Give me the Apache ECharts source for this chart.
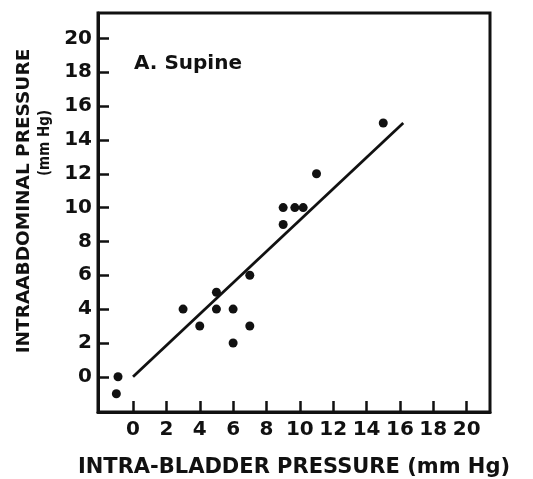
<!DOCTYPE html>
<html>
<head>
<meta charset="utf-8">
<script src="https://cdn.jsdelivr.net/npm/echarts@6/dist/echarts.min.js"></script>
<style>
  html, body { margin: 0; padding: 0; background: #fff; }
  #chart { width: 533px; height: 479px; }
</style>
</head>
<body>
<div id="chart"></div>
<script>
// tick labels
const xTicks = [0, 2, 4, 6, 8, 10, 12, 14, 16, 18, 20]
const yTicks = [0, 2, 4, 6, 8, 10, 12, 14, 16, 18, 20]

// measured points (intra-bladder, intraabdominal), mm Hg
const bladderP = [-0.9, -1, 3, 4, 5, 5, 6, 6, 7, 7, 9, 9, 9.7, 10.2, 11, 15]
const abdomP = [0, -1, 4, 3, 4, 5, 4, 2, 6, 3, 9, 10, 10, 10, 12, 15]

// regression line end points
const fitX = [0, 16.2]
const fitY = [0, 15]

const panelLabel = 'A. Supine'
const xTitle = 'INTRA-BLADDER PRESSURE (mm Hg)'
const yTitle = 'INTRAABDOMINAL PRESSURE'
const yUnit = '(mm Hg)'

const ink = '#111'
const font = '"DejaVu Sans", sans-serif'
const narrow = '"DejaVu Sans Condensed", "DejaVu Sans", sans-serif'

const chart = echarts.init(document.getElementById('chart'))

const option = {
  backgroundColor: '#fff',
  animation: false,
  grid: {
    left: 98,
    right: 43,
    top: 13,
    bottom: 67,
    outerBoundsMode: 'none',
    containLabel: false,
    show: true,
    borderColor: ink,
    borderWidth: 3,
    backgroundColor: 'transparent'
  },
  xAxis: {
    type: 'value',
    min: -2.1,
    max: 21.4,
    name: xTitle,
    nameLocation: 'middle',
    nameGap: 45,
    nameTextStyle: { color: ink, fontFamily: font, fontWeight: 'bold', fontSize: 21 },
    axisLine: { show: true, onZero: false, lineStyle: { color: ink, width: 3 } },
    splitLine: { show: false },
    axisTick: {
      show: true,
      inside: true,
      length: 11,
      customValues: xTicks,
      lineStyle: { color: ink, width: 2.5 }
    },
    axisLabel: {
      customValues: xTicks,
      margin: 8,
      color: ink,
      fontFamily: font,
      fontWeight: 'bold',
      fontSize: 20
    }
  },
  yAxis: {
    type: 'value',
    min: -2.08,
    max: 21.5,
    axisLine: { show: true, onZero: false, lineStyle: { color: ink, width: 3 } },
    splitLine: { show: false },
    axisTick: {
      show: true,
      inside: true,
      length: 11,
      customValues: yTicks,
      lineStyle: { color: ink, width: 2.5 }
    },
    axisLabel: {
      customValues: yTicks,
      margin: 6,
      color: ink,
      fontFamily: font,
      fontWeight: 'bold',
      fontSize: 20
    }
  },
  graphic: [
    {
      type: 'text',
      left: 134,
      top: 54,
      style: { text: panelLabel, fill: ink, font: 'bold 20px ' + font }
    },
    {
      type: 'text',
      x: 24,
      y: 201,
      rotation: Math.PI / 2,
      style: {
        text: yTitle,
        fill: ink,
        font: 'bold 18.5px ' + font,
        align: 'center',
        verticalAlign: 'middle'
      }
    },
    {
      type: 'text',
      x: 45,
      y: 143,
      rotation: Math.PI / 2,
      style: {
        text: yUnit,
        fill: ink,
        font: 'bold 15px ' + narrow,
        align: 'center',
        verticalAlign: 'middle'
      }
    }
  ],
  series: [
    {
      type: 'line',
      data: fitX.map((x, i) => [x, fitY[i]]),
      showSymbol: false,
      lineStyle: { color: ink, width: 2.8 },
      z: 2
    },
    {
      type: 'scatter',
      data: bladderP.map((x, i) => [x, abdomP[i]]),
      symbol: 'circle',
      symbolSize: 9,
      itemStyle: { color: ink, opacity: 1 },
      z: 3
    }
  ]
}

chart.setOption(option)
</script>
</body>
</html>
